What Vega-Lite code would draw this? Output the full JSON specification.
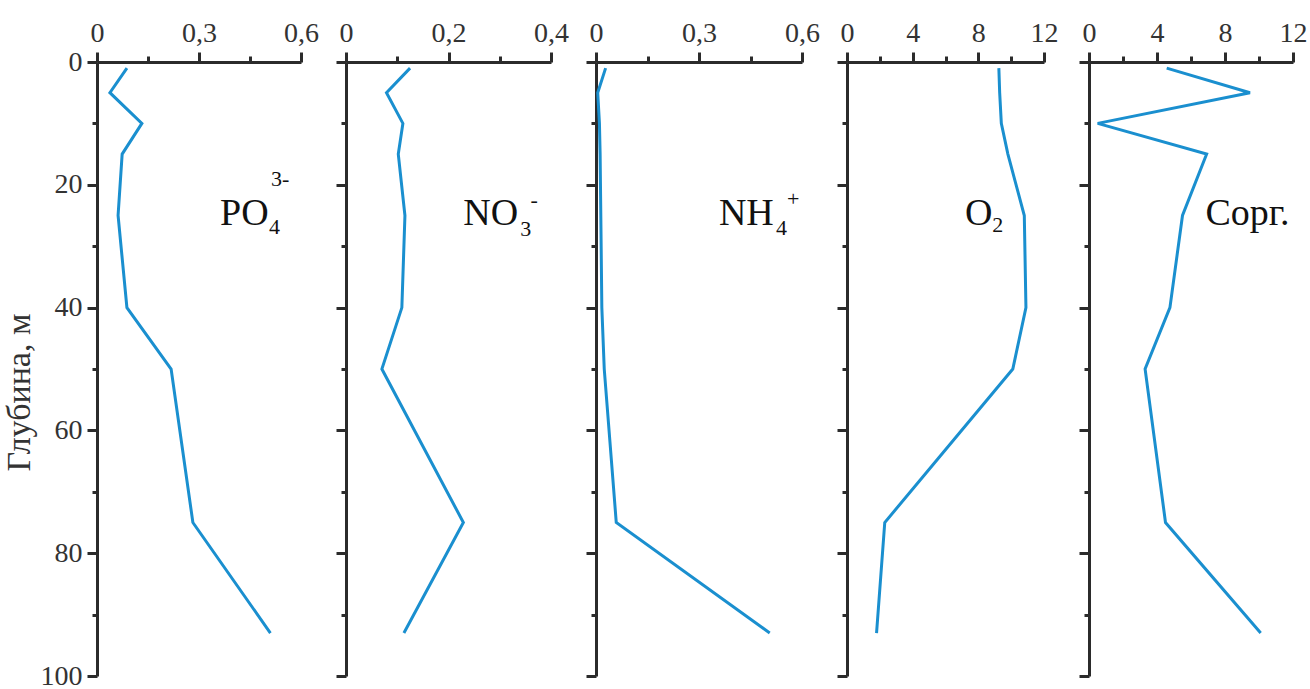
{
  "$schema": "https://vega.github.io/schema/vega-lite/v6.json",
  "padding": {"left": 2, "top": 19, "right": 0, "bottom": 0},
  "background": "white",
  "datasets": {
    "profiles": [
      {"param": "PO4", "depth": 1, "value": 0.088}, {"param": "PO4", "depth": 5, "value": 0.038}, {"param": "PO4", "depth": 10, "value": 0.132}, {"param": "PO4", "depth": 15, "value": 0.074}, {"param": "PO4", "depth": 25, "value": 0.062}, {"param": "PO4", "depth": 40, "value": 0.088}, {"param": "PO4", "depth": 50, "value": 0.218}, {"param": "PO4", "depth": 75, "value": 0.282}, {"param": "PO4", "depth": 93, "value": 0.51},
      {"param": "NO3", "depth": 1, "value": 0.125}, {"param": "NO3", "depth": 5, "value": 0.079}, {"param": "NO3", "depth": 10, "value": 0.111}, {"param": "NO3", "depth": 15, "value": 0.102}, {"param": "NO3", "depth": 25, "value": 0.115}, {"param": "NO3", "depth": 40, "value": 0.109}, {"param": "NO3", "depth": 50, "value": 0.07}, {"param": "NO3", "depth": 75, "value": 0.229}, {"param": "NO3", "depth": 93, "value": 0.113},
      {"param": "NH4", "depth": 1, "value": 0.028}, {"param": "NH4", "depth": 5, "value": 0.005}, {"param": "NH4", "depth": 10, "value": 0.01}, {"param": "NH4", "depth": 15, "value": 0.012}, {"param": "NH4", "depth": 25, "value": 0.014}, {"param": "NH4", "depth": 40, "value": 0.017}, {"param": "NH4", "depth": 50, "value": 0.024}, {"param": "NH4", "depth": 75, "value": 0.059}, {"param": "NH4", "depth": 93, "value": 0.506},
      {"param": "O2", "depth": 1, "value": 9.25}, {"param": "O2", "depth": 5, "value": 9.3}, {"param": "O2", "depth": 10, "value": 9.4}, {"param": "O2", "depth": 15, "value": 9.8}, {"param": "O2", "depth": 25, "value": 10.8}, {"param": "O2", "depth": 40, "value": 10.9}, {"param": "O2", "depth": 50, "value": 10.1}, {"param": "O2", "depth": 75, "value": 2.3}, {"param": "O2", "depth": 93, "value": 1.8},
      {"param": "Corg", "depth": 1, "value": 4.57}, {"param": "Corg", "depth": 5, "value": 9.47}, {"param": "Corg", "depth": 10, "value": 0.51}, {"param": "Corg", "depth": 15, "value": 6.92}, {"param": "Corg", "depth": 25, "value": 5.5}, {"param": "Corg", "depth": 40, "value": 4.76}, {"param": "Corg", "depth": 50, "value": 3.3}, {"param": "Corg", "depth": 75, "value": 4.5}, {"param": "Corg", "depth": 93, "value": 10.1}
    ],
    "labels": [
      {"param": "PO4", "part": "main", "text": "PO", "value": 0.362, "depth": 26.6},
      {"param": "PO4", "part": "sub", "text": "4", "value": 0.506, "depth": 28.0},
      {"param": "PO4", "part": "sup", "text": "3-", "value": 0.512, "depth": 20.2},
      {"param": "NO3", "part": "main", "text": "NO", "value": 0.229, "depth": 26.6},
      {"param": "NO3", "part": "sub", "text": "3", "value": 0.34, "depth": 28.3},
      {"param": "NO3", "part": "sup", "text": "-", "value": 0.36, "depth": 23.6},
      {"param": "NH4", "part": "main", "text": "NH", "value": 0.358, "depth": 26.6},
      {"param": "NH4", "part": "sub", "text": "4", "value": 0.524, "depth": 28.2},
      {"param": "NH4", "part": "sup", "text": "+", "value": 0.556, "depth": 23.4},
      {"param": "O2", "part": "main", "text": "O", "value": 7.19, "depth": 26.6},
      {"param": "O2", "part": "sub", "text": "2", "value": 8.85, "depth": 27.7},
      {"param": "Corg", "part": "main", "text": "Сорг.", "value": 6.85, "depth": 26.6}
    ]
  },
  "hconcat": [
    {
      "width": 204, "height": 614,
      "resolve": {"axis": {"x": "independent", "y": "independent"}},
      "layer": [
        {
          "data": {"name": "profiles"},
          "transform": [{"filter": "datum.param == 'PO4'"}],
          "mark": {"type": "line", "color": "#1a8fcf", "strokeWidth": 3},
          "encoding": {
            "x": {"field": "value", "type": "quantitative", "scale": {"domain": [0, 0.6], "nice": false, "zero": false},
              "axis": {"orient": "top", "title": null, "values": [0, 0.3, 0.6], "tickSize": 10,
                "labelExpr": "datum.value == 0 ? '0' : (datum.value == 0.3 ? '0,3' : '0,6')"}},
            "y": {"field": "depth", "type": "quantitative", "scale": {"domain": [0, 100], "reverse": true, "nice": false},
              "axis": {"orient": "left", "title": "Глубина, м", "titleY": 330, "values": [0, 20, 40, 60, 80, 100], "tickSize": 10}},
            "order": {"field": "depth"}
          }
        },
        {
          "data": {"name": "labels"},
          "transform": [{"filter": "datum.param == 'PO4' && datum.part == 'main'"}],
          "mark": {"type": "text", "align": "left", "baseline": "alphabetic", "font": "Liberation Serif", "fontSize": 38, "color": "#111111"},
          "encoding": {
            "x": {"field": "value", "type": "quantitative", "axis": {"orient": "top", "title": null, "values": [0.15, 0.45], "tickSize": 6, "labels": false, "domain": false}},
            "y": {"field": "depth", "type": "quantitative", "axis": {"orient": "left", "title": null, "values": [10, 30, 50, 70, 90], "tickSize": 5, "labels": false, "domain": false}},
            "text": {"field": "text"}
          }
        },
        {
          "data": {"name": "labels"},
          "transform": [{"filter": "datum.param == 'PO4' && datum.part != 'main'"}],
          "mark": {"type": "text", "align": "left", "baseline": "alphabetic", "font": "Liberation Serif", "fontSize": 22, "color": "#111111"},
          "encoding": {
            "x": {"field": "value", "type": "quantitative", "axis": null},
            "y": {"field": "depth", "type": "quantitative", "axis": null},
            "text": {"field": "text"}
          }
        }
      ]
    },
    {
      "width": 205, "height": 614,
      "resolve": {"axis": {"x": "independent", "y": "independent"}},
      "layer": [
        {
          "data": {"name": "profiles"},
          "transform": [{"filter": "datum.param == 'NO3'"}],
          "mark": {"type": "line", "color": "#1a8fcf", "strokeWidth": 3},
          "encoding": {
            "x": {"field": "value", "type": "quantitative", "scale": {"domain": [0, 0.4], "nice": false, "zero": false},
              "axis": {"orient": "top", "title": null, "values": [0, 0.2, 0.4], "tickSize": 10,
                "labelExpr": "datum.value == 0 ? '0' : (datum.value == 0.2 ? '0,2' : '0,4')"}},
            "y": {"field": "depth", "type": "quantitative", "scale": {"domain": [0, 100], "reverse": true, "nice": false},
              "axis": {"orient": "left", "title": null, "labels": false, "values": [0, 20, 40, 60, 80, 100], "tickSize": 10}},
            "order": {"field": "depth"}
          }
        },
        {
          "data": {"name": "labels"},
          "transform": [{"filter": "datum.param == 'NO3' && datum.part == 'main'"}],
          "mark": {"type": "text", "align": "left", "baseline": "alphabetic", "font": "Liberation Serif", "fontSize": 38, "color": "#111111"},
          "encoding": {
            "x": {"field": "value", "type": "quantitative", "axis": {"orient": "top", "title": null, "values": [0.1, 0.3], "tickSize": 6, "labels": false, "domain": false}},
            "y": {"field": "depth", "type": "quantitative", "axis": {"orient": "left", "title": null, "values": [10, 30, 50, 70, 90], "tickSize": 5, "labels": false, "domain": false}},
            "text": {"field": "text"}
          }
        },
        {
          "data": {"name": "labels"},
          "transform": [{"filter": "datum.param == 'NO3' && datum.part != 'main'"}],
          "mark": {"type": "text", "align": "left", "baseline": "alphabetic", "font": "Liberation Serif", "fontSize": 22, "color": "#111111"},
          "encoding": {
            "x": {"field": "value", "type": "quantitative", "axis": null},
            "y": {"field": "depth", "type": "quantitative", "axis": null},
            "text": {"field": "text"}
          }
        }
      ]
    },
    {
      "width": 206, "height": 614,
      "resolve": {"axis": {"x": "independent", "y": "independent"}},
      "layer": [
        {
          "data": {"name": "profiles"},
          "transform": [{"filter": "datum.param == 'NH4'"}],
          "mark": {"type": "line", "color": "#1a8fcf", "strokeWidth": 3},
          "encoding": {
            "x": {"field": "value", "type": "quantitative", "scale": {"domain": [0, 0.6], "nice": false, "zero": false},
              "axis": {"orient": "top", "title": null, "values": [0, 0.3, 0.6], "tickSize": 10,
                "labelExpr": "datum.value == 0 ? '0' : (datum.value == 0.3 ? '0,3' : '0,6')"}},
            "y": {"field": "depth", "type": "quantitative", "scale": {"domain": [0, 100], "reverse": true, "nice": false},
              "axis": {"orient": "left", "title": null, "labels": false, "values": [0, 20, 40, 60, 80, 100], "tickSize": 10}},
            "order": {"field": "depth"}
          }
        },
        {
          "data": {"name": "labels"},
          "transform": [{"filter": "datum.param == 'NH4' && datum.part == 'main'"}],
          "mark": {"type": "text", "align": "left", "baseline": "alphabetic", "font": "Liberation Serif", "fontSize": 38, "color": "#111111"},
          "encoding": {
            "x": {"field": "value", "type": "quantitative", "axis": {"orient": "top", "title": null, "values": [0.15, 0.45], "tickSize": 6, "labels": false, "domain": false}},
            "y": {"field": "depth", "type": "quantitative", "axis": {"orient": "left", "title": null, "values": [10, 30, 50, 70, 90], "tickSize": 5, "labels": false, "domain": false}},
            "text": {"field": "text"}
          }
        },
        {
          "data": {"name": "labels"},
          "transform": [{"filter": "datum.param == 'NH4' && datum.part != 'main'"}],
          "mark": {"type": "text", "align": "left", "baseline": "alphabetic", "font": "Liberation Serif", "fontSize": 22, "color": "#111111"},
          "encoding": {
            "x": {"field": "value", "type": "quantitative", "axis": null},
            "y": {"field": "depth", "type": "quantitative", "axis": null},
            "text": {"field": "text"}
          }
        }
      ]
    },
    {
      "width": 197, "height": 614,
      "resolve": {"axis": {"x": "independent", "y": "independent"}},
      "layer": [
        {
          "data": {"name": "profiles"},
          "transform": [{"filter": "datum.param == 'O2'"}],
          "mark": {"type": "line", "color": "#1a8fcf", "strokeWidth": 3},
          "encoding": {
            "x": {"field": "value", "type": "quantitative", "scale": {"domain": [0, 12], "nice": false, "zero": false},
              "axis": {"orient": "top", "title": null, "values": [0, 4, 8, 12], "tickSize": 10}},
            "y": {"field": "depth", "type": "quantitative", "scale": {"domain": [0, 100], "reverse": true, "nice": false},
              "axis": {"orient": "left", "title": null, "labels": false, "values": [0, 20, 40, 60, 80, 100], "tickSize": 10}},
            "order": {"field": "depth"}
          }
        },
        {
          "data": {"name": "labels"},
          "transform": [{"filter": "datum.param == 'O2' && datum.part == 'main'"}],
          "mark": {"type": "text", "align": "left", "baseline": "alphabetic", "font": "Liberation Serif", "fontSize": 38, "color": "#111111"},
          "encoding": {
            "x": {"field": "value", "type": "quantitative", "axis": {"orient": "top", "title": null, "values": [2, 6, 10], "tickSize": 6, "labels": false, "domain": false}},
            "y": {"field": "depth", "type": "quantitative", "axis": {"orient": "left", "title": null, "values": [10, 30, 50, 70, 90], "tickSize": 5, "labels": false, "domain": false}},
            "text": {"field": "text"}
          }
        },
        {
          "data": {"name": "labels"},
          "transform": [{"filter": "datum.param == 'O2' && datum.part != 'main'"}],
          "mark": {"type": "text", "align": "left", "baseline": "alphabetic", "font": "Liberation Serif", "fontSize": 22, "color": "#111111"},
          "encoding": {
            "x": {"field": "value", "type": "quantitative", "axis": null},
            "y": {"field": "depth", "type": "quantitative", "axis": null},
            "text": {"field": "text"}
          }
        }
      ]
    },
    {
      "width": 204, "height": 614,
      "resolve": {"axis": {"x": "independent", "y": "independent"}},
      "layer": [
        {
          "data": {"name": "profiles"},
          "transform": [{"filter": "datum.param == 'Corg'"}],
          "mark": {"type": "line", "color": "#1a8fcf", "strokeWidth": 3},
          "encoding": {
            "x": {"field": "value", "type": "quantitative", "scale": {"domain": [0, 12], "nice": false, "zero": false},
              "axis": {"orient": "top", "title": null, "values": [0, 4, 8, 12], "tickSize": 10}},
            "y": {"field": "depth", "type": "quantitative", "scale": {"domain": [0, 100], "reverse": true, "nice": false},
              "axis": {"orient": "left", "title": null, "labels": false, "values": [0, 20, 40, 60, 80, 100], "tickSize": 10}},
            "order": {"field": "depth"}
          }
        },
        {
          "data": {"name": "labels"},
          "transform": [{"filter": "datum.param == 'Corg' && datum.part == 'main'"}],
          "mark": {"type": "text", "align": "left", "baseline": "alphabetic", "font": "Liberation Serif", "fontSize": 38, "color": "#111111"},
          "encoding": {
            "x": {"field": "value", "type": "quantitative", "axis": {"orient": "top", "title": null, "values": [2, 6, 10], "tickSize": 6, "labels": false, "domain": false}},
            "y": {"field": "depth", "type": "quantitative", "axis": {"orient": "left", "title": null, "values": [10, 30, 50, 70, 90], "tickSize": 5, "labels": false, "domain": false}},
            "text": {"field": "text"}
          }
        }
      ]
    }
  ],
  "spacing": 45,
  "bounds": "flush",
  "config": {
    "view": {"stroke": null},
    "axis": {
      "grid": false,
      "domainColor": "#2b2b2b", "domainWidth": 3,
      "tickColor": "#2b2b2b", "tickWidth": 3,
      "labelFont": "Liberation Serif", "labelFontSize": 28, "labelColor": "#333333",
      "labelFlush": false, "labelOverlap": false, "labelPadding": 5,
      "titleFont": "Liberation Serif", "titleFontSize": 34, "titleFontWeight": "normal", "titleColor": "#333333", "titlePadding": 4
    }
  }
}
